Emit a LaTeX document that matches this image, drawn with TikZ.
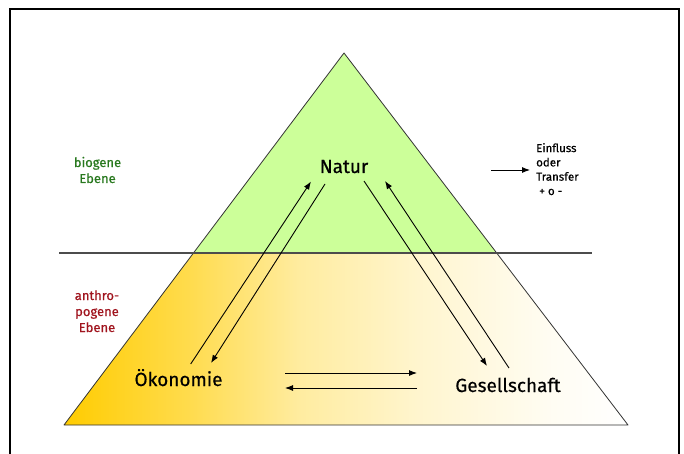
\documentclass[tikz,border=0pt]{standalone}
\usepackage{fontspec}
\setmainfont{Fira Sans}[UprightFeatures={FakeBold=0.5}]
\usetikzlibrary{arrows.meta}
\definecolor{gold}{HTML}{FFCC00}
\definecolor{natgreen}{HTML}{CCFF99}
\definecolor{biotext}{RGB}{40,120,30}
\definecolor{anthrotext}{RGB}{160,20,30}
\definecolor{edgegray}{HTML}{333333}
\pgfdeclarehorizontalshading{goldfade}{100bp}{%
  color(0bp)=(gold); color(25bp)=(gold);
  color(36bp)=(gold!70!white); color(46bp)=(gold!37!white);
  color(56.5bp)=(gold!19!white); color(68bp)=(gold!5!white);
  color(75bp)=(white); color(100bp)=(white)}
\begin{document}
\begin{tikzpicture}[x=1pt,y=-1pt,
  bigtext/.style={font=\fontsize{19}{22}\selectfont, anchor=base, inner sep=0pt},
  leveltext/.style={font=\fontsize{13}{16}\selectfont, align=center, anchor=base, inner sep=0pt},
  legendtext/.style={font=\fontsize{11.5}{14.3}\selectfont, align=left, anchor=base west, inner sep=0pt},
  flow/.style={-{Latex[length=8pt,width=6pt]}, line width=0.9pt, black}]
\useasboundingbox (0,0) rectangle (684,454);
% frame
\draw[line width=2pt, black] (10,470) -- (10,9.5) -- (679,9.5) -- (679,470);
% pyramid
\coordinate (apex) at (344,53);
\coordinate (bl) at (64,425);
\coordinate (br) at (628,425);
\coordinate (ml) at (193.5,253);
\coordinate (mr) at (496.7,253);
\fill[natgreen] (apex) -- (mr) -- (ml) -- cycle;
\shade[shading=goldfade] (ml) -- (mr) -- (br) -- (bl) -- cycle;
\draw[edgegray, line width=0.8pt, line join=round] (apex) -- (br) -- (bl) -- cycle;
% level line
\coordinate (lvl) at (59,253);
\coordinate (lvr) at (592,253);
\draw[black!70, line width=1.5pt] (lvl) -- (lvr);
% texts (base = baseline of last line)
\node[bigtext] (natur) at (344,173) {Natur};
\node[bigtext] (oek) at (178.5,386) {Ökonomie};
\node[bigtext] (ges) at (508,392) {Gesellschaft};
\node[leveltext, text=biotext] (bio) at (97.5,183) {biogene\\Ebene};
\node[leveltext, text=anthrotext] (anthro) at (97,332) {anthro-\\pogene\\Ebene};
\node[legendtext] (leg) at (536,195) {Einfluss\\oder\\Transfer\\\hspace*{3pt}+ o -};
% arrows
\coordinate (o1) at (190.7,364);
\coordinate (n1) at (311,181.5);
\coordinate (n2) at (325,184);
\coordinate (o2) at (211,363);
\coordinate (n3) at (364,181);
\coordinate (g1) at (487,366);
\coordinate (g2) at (509,368);
\coordinate (n4) at (385,181);
\coordinate (h1) at (285,373);
\coordinate (h2) at (417,373);
\coordinate (h3) at (417,388);
\coordinate (h4) at (285,388);
\coordinate (l1) at (491,170);
\coordinate (l2) at (530,170);
\draw[flow] (o1) -- (n1);
\draw[flow] (n2) -- (o2);
\draw[flow] (n3) -- (g1);
\draw[flow] (g2) -- (n4);
\draw[flow] (h1) -- (h2);
\draw[flow] (h3) -- (h4);
\draw[flow] (l1) -- (l2);
\end{tikzpicture}
\end{document}
